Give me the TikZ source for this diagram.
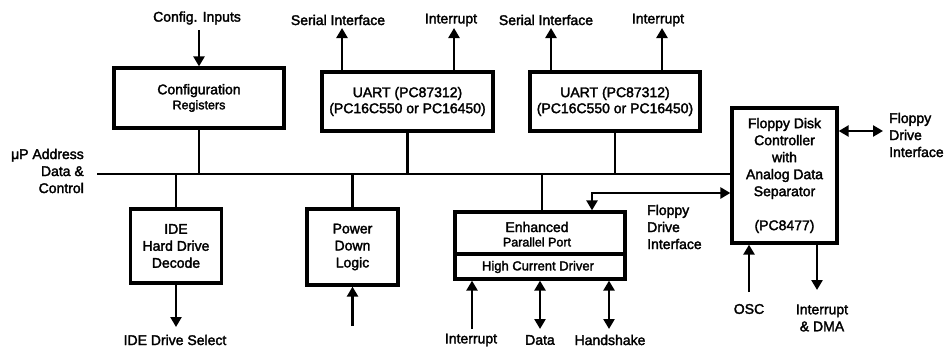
\documentclass[tikz,border=0pt]{standalone}
\usepackage{fontspec}
\newfontfamily\pf{Liberation Sans}[FakeBold=2.2]
\usetikzlibrary{arrows.meta}
\begin{document}
\begin{tikzpicture}[x=1pt,y=-1pt,
  txt/.style={font=\pf\fontsize{14}{17}\selectfont, inner sep=0pt, align=center},
  small/.style={font=\pf\fontsize{12.5}{15}\selectfont, inner sep=0pt, align=center},
  blk/.style={draw, line width=3.3pt, inner sep=0pt, font=\pf\fontsize{14}{17}\selectfont, align=center},
  wire/.style={line width=2.9pt},
  tip/.style={-{Triangle[length=10pt,width=11pt]}},
  tipboth/.style={{Triangle[length=10pt,width=11pt]}-{Triangle[length=10pt,width=11pt]}}
]
\useasboundingbox (0,0) rectangle (947,348);

% blocks
\node[blk, minimum width=170pt, minimum height=60pt] (cfg) at (199,98)
  {Configuration\\[-2pt]{\fontsize{12.5}{14}\selectfont Registers}};
\node[blk, minimum width=171pt, minimum height=59pt] (u1) at (407.5,101.5)
  {UART (PC87312)\\[-1pt](PC16C550 or PC16450)};
\node[blk, minimum width=170pt, minimum height=59pt] (u2) at (615,101.5)
  {UART (PC87312)\\[-1pt](PC16C550 or PC16450)};
\node[blk, minimum width=91pt, minimum height=74pt] (ide) at (176,246)
  {IDE\\Hard Drive\\Decode};
\node[blk, minimum width=91pt, minimum height=76pt] (pwr) at (352.5,247)
  {Power\\Down\\Logic};
\node[blk, minimum width=170pt, minimum height=67pt] (pp) at (540,245.5) {};
\node[blk, minimum width=105pt, minimum height=135pt] (fdc) at (784.5,175.5)
  {Floppy Disk\\Controller\\with\\Analog Data\\Separator\\[17pt](PC8477)};

% parallel port internals
\coordinate (ppdiv) at (540,254);
\draw[line width=3.3pt] (pp.west |- ppdiv) -- (pp.east |- ppdiv);
\node[txt] (ppt1) at (537,227) {Enhanced};
\node[small] (ppt2) at (537,242) {Parallel Port};
\node[txt, font=\pf\fontsize{13}{15}\selectfont] (hcd) at (538,267) {High Current Driver};

% bus
\node[txt, align=right, anchor=east] (mup) at (84,171) {μP Address\\Data \&\\Control};
\coordinate (busL) at (97,174);
\draw[wire] (busL) -- (fdc.west |- busL);
\draw[wire] (cfg.south) -- (cfg.south |- busL);
\draw[wire] (u1.south) -- (u1.south |- busL);
\draw[wire] (u2.south) -- (u2.south |- busL);
\draw[wire] (ide.north |- busL) -- (ide.north);
\draw[wire] (pwr.north |- busL) -- (pwr.north);
\coordinate (ppc) at (542,174);
\draw[wire] (ppc) -- (ppc |- pp.north);

% top labels and arrows
\node[txt] (lci) at (197,18) {Config. Inputs};
\coordinate (ci) at (199,30);
\draw[wire,tip] (ci) -- (cfg.north);

\node[txt] (ls1) at (338,20) {Serial Interface};
\coordinate (s1) at (342,28);
\draw[wire,tip] (u1.north -| s1) -- (s1);
\node[txt] (li1) at (451,20) {Interrupt};
\coordinate (i1) at (454,28);
\draw[wire,tip] (u1.north -| i1) -- (i1);

\node[txt] (ls2) at (546,20) {Serial Interface};
\coordinate (s2) at (551,28);
\draw[wire,tip] (u2.north -| s2) -- (s2);
\node[txt] (li2) at (658,20) {Interrupt};
\coordinate (i2) at (662,28);
\draw[wire,tip] (u2.north -| i2) -- (i2);

% floppy drive interface between PP and FDC
\coordinate (fi) at (592,193);
\draw[wire,tipboth] (pp.north -| fi) -- (fi) -- (fi -| fdc.west);
\node[txt, align=left, anchor=west] (lfi) at (647,227) {Floppy\\Drive\\Interface};

% FDC right interface
\coordinate (fr) at (883,131);
\draw[wire,tipboth] (fdc.east |- fr) -- (fr);
\node[txt, align=left, anchor=west] (lfr) at (889,135) {Floppy\\Drive\\Interface};

% bottom IDE
\coordinate (ids) at (176,327);
\draw[wire,tip] (ide.south) -- (ids);
\node[txt] (lids) at (175,340) {IDE Drive Select};

% power down input
\coordinate (pin) at (352.5,326);
\draw[wire,tip] (pin) -- (pwr.south);

% parallel port bottom
\coordinate (pi) at (472,329);
\draw[wire,tip] (pi) -- (pp.south -| pi);
\node[txt] (lpi) at (471,340) {Interrupt};
\coordinate (pd) at (540,329);
\draw[wire,tipboth] (pp.south -| pd) -- (pd);
\node[txt] (lpd) at (540,340) {Data};
\coordinate (ph) at (609,329);
\draw[wire,tipboth] (pp.south -| ph) -- (ph);
\node[txt] (lph) at (610,340) {Handshake};

% FDC bottom
\coordinate (osc) at (749,292);
\draw[wire,tip] (osc) -- (fdc.south -| osc);
\node[txt] (losc) at (749,309) {OSC};
\coordinate (idma) at (817,290);
\draw[wire,tip] (fdc.south -| idma) -- (idma);
\node[txt] (lidma) at (822,318) {Interrupt\\\& DMA};
\end{tikzpicture}
\end{document}
